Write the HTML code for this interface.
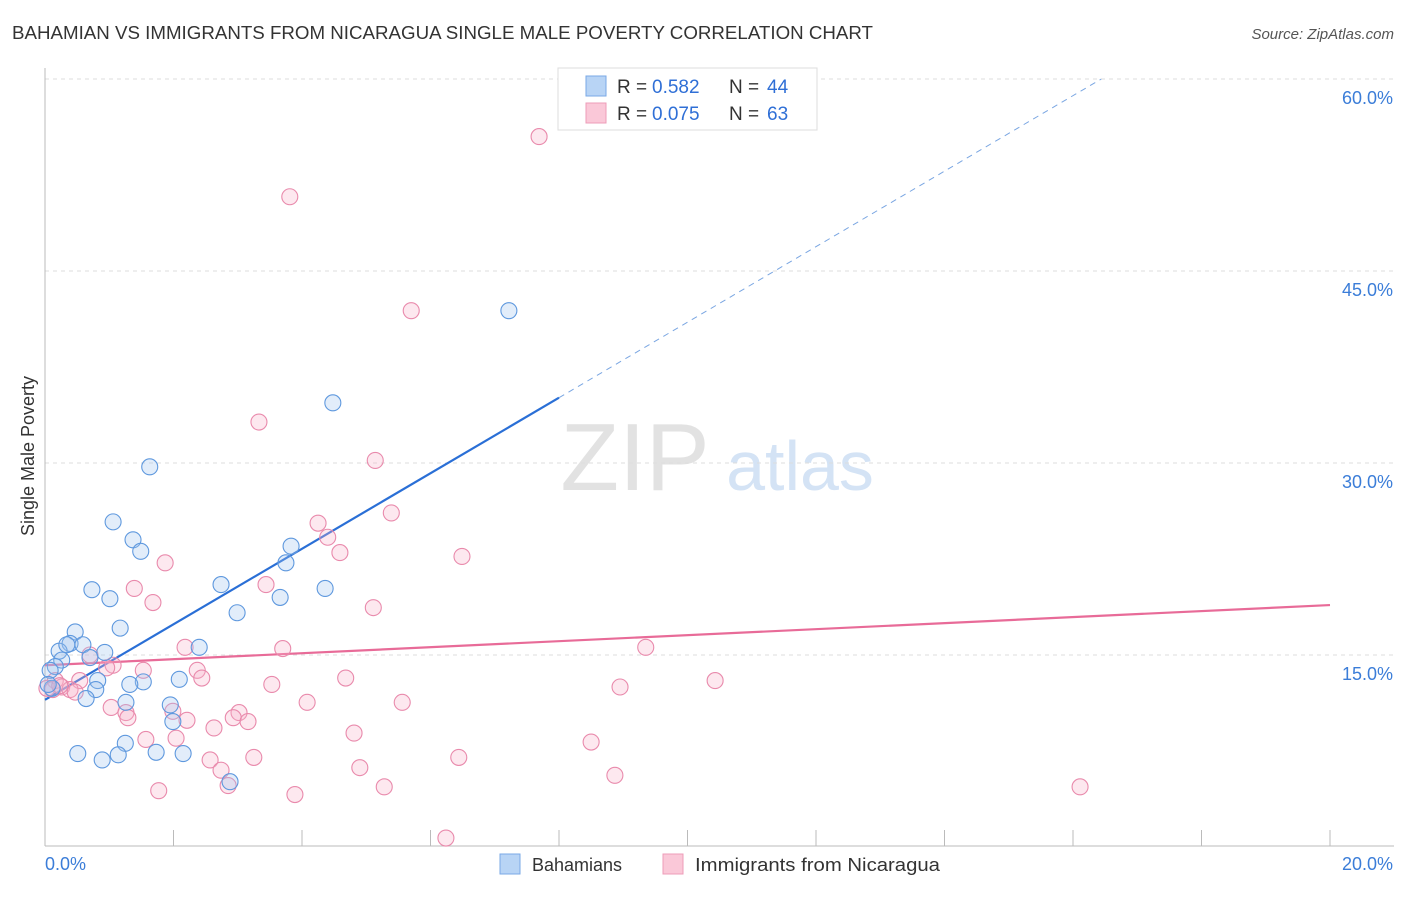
<!DOCTYPE html>
<html><head><meta charset="utf-8">
<style>
body{margin:0;background:#fff;font-family:"Liberation Sans",sans-serif;}
svg text{font-family:"Liberation Sans",sans-serif;}
</style></head>
<body>
<svg id="chart" width="1406" height="892" xmlns="http://www.w3.org/2000/svg">
<text x="12" y="39" font-size="18" fill="#333" textLength="861" lengthAdjust="spacingAndGlyphs">BAHAMIAN VS IMMIGRANTS FROM NICARAGUA SINGLE MALE POVERTY CORRELATION CHART</text>
<text x="1394" y="39" font-size="15" fill="#555" font-style="italic" text-anchor="end">Source: ZipAtlas.com</text>
<text transform="translate(34,456) rotate(-90)" font-size="18" fill="#333" text-anchor="middle">Single Male Poverty</text>
<g>
<text x="635" y="490" font-size="96" fill="#e2e2e2" font-family="Liberation Serif" text-anchor="middle">ZIP</text>
<text x="800" y="490" font-size="70" fill="#d4e3f5" text-anchor="middle">atlas</text>
</g>
<g id="grid"></g>
<g id="axes"></g>
<g id="lines"></g>
<g id="points"></g>
<g>
<rect x="558" y="68" width="259" height="62" fill="#fff" stroke="#ddd"/>
<rect x="586" y="76" width="20" height="20" fill="#b8d4f5" stroke="#7aa8e6"/>
<rect x="586" y="103" width="20" height="20" fill="#fac8d8" stroke="#ee9cb8"/>
<text x="617" y="93" font-size="19" fill="#333">R = </text><text x="652" y="93" font-size="19" fill="#2f6fd6">0.582</text>
<text x="729" y="93" font-size="19" fill="#333">N = </text><text x="767" y="93" font-size="19" fill="#2f6fd6">44</text>
<text x="617" y="120" font-size="19" fill="#333">R = </text><text x="652" y="120" font-size="19" fill="#2f6fd6">0.075</text>
<text x="729" y="120" font-size="19" fill="#333">N = </text><text x="767" y="120" font-size="19" fill="#2f6fd6">63</text>
</g>
<g>
<rect x="500" y="854" width="20" height="20" fill="#b8d4f5" stroke="#7aa8e6"/>
<text x="532" y="871" font-size="18" fill="#333">Bahamians</text>
<rect x="663" y="854" width="20" height="20" fill="#fac8d8" stroke="#ee9cb8"/>
<text x="695" y="871" font-size="18" fill="#333" textLength="245" lengthAdjust="spacingAndGlyphs">Immigrants from Nicaragua</text>
</g>
</svg>
<script>
const xTicks=[0,2,4,6,8,10,12,14,16,18,20];
const yTicks=[15,30,45,60];
const yTickLabels=["15.0%","30.0%","45.0%","60.0%"];
const xEndLabels=["0.0%","20.0%"];
const blueX=[7.22,4.48,1.63,1.06,1.37,1.49,3.83,3.75,2.74,4.36,0.73,1.01,3.66,2.99,1.17,0.47,0.39,0.59,0.22,0.34,2.40,0.93,0.70,0.26,0.16,0.08,2.09,0.82,1.53,1.32,0.11,0.05,0.79,0.64,1.26,1.95,1.99,1.25,1.73,2.15,0.51,0.89,1.14,2.88];
const blueY=[41.9,34.7,29.7,25.4,24.0,23.1,23.5,22.2,20.5,20.2,20.1,19.4,19.5,18.3,17.1,16.8,15.9,15.8,15.3,15.8,15.6,15.2,14.8,14.6,14.1,13.8,13.1,13.0,12.9,12.7,12.4,12.7,12.3,11.6,11.3,11.1,9.8,8.1,7.4,7.3,7.3,6.8,7.2,5.1];
const pinkX=[7.69,3.81,5.70,3.33,5.14,5.39,4.25,4.40,4.59,6.49,1.87,1.39,3.44,1.68,5.11,2.18,3.70,9.35,0.70,1.06,1.53,2.37,0.96,2.44,0.16,0.54,4.68,3.53,0.26,0.39,10.43,8.95,0.03,4.08,5.56,1.03,1.26,1.99,2.21,3.02,2.93,3.16,2.63,1.29,1.57,2.04,4.81,8.50,2.57,3.25,6.44,4.90,2.74,8.87,2.85,5.28,16.11,1.77,3.89,6.24,0.12,0.23,0.47];
const pinkY=[55.5,50.8,41.9,33.2,30.2,26.1,25.3,24.2,23.0,22.7,22.2,20.2,20.5,19.1,18.7,15.6,15.5,15.6,15.0,14.2,13.8,13.8,14.0,13.2,13.0,13.0,13.2,12.7,12.5,12.3,13.0,12.5,12.4,11.3,11.3,10.9,10.5,10.6,9.9,10.5,10.1,9.8,9.3,10.1,8.4,8.5,8.9,8.2,6.8,7.0,7.0,6.2,6.0,5.6,4.8,4.7,4.7,4.4,4.1,0.7,12.3,12.6,12.1];
const blueTrend=[11.5,2.95];
const pinkTrend=[14.2,0.235];
const NS="http://www.w3.org/2000/svg";
const X=v=>45+v*64.25, Y=v=>847-v*12.8;
function mk(tag,attrs,parent){const e=document.createElementNS(NS,tag);for(const k in attrs)e.setAttribute(k,attrs[k]);parent.appendChild(e);return e;}
const grid=document.getElementById('grid'),axes=document.getElementById('axes'),lines=document.getElementById('lines'),pts=document.getElementById('points');
yTicks.forEach((t,i)=>{
 const l=mk('line',{x1:45,x2:1394,y1:Y(t),y2:Y(t),stroke:'#ddd','stroke-dasharray':'4,4'},grid);
 
 
 const tx=mk('text',{x:1393,y:Y(t)+25,'font-size':18,fill:'#3b7dd8','text-anchor':'end'},axes);
 tx.textContent=yTickLabels[i];
 
 
});
const yl=mk('line',{x1:45,x2:45,y1:68,y2:846,stroke:'#bbb'},axes);


const xl=mk('line',{x1:45,x2:1394,y1:846,y2:846,stroke:'#bbb'},axes);


xTicks.forEach(t=>{
 const l=mk('line',{x1:X(t),x2:X(t),y1:830,y2:846,stroke:'#bbb'},axes);
 
 
});
const xa=mk('text',{x:45,y:870,'font-size':18,fill:'#3b7dd8'},axes);xa.textContent=xEndLabels[0];


const xb=mk('text',{x:1393,y:870,'font-size':18,fill:'#3b7dd8','text-anchor':'end'},axes);xb.textContent=xEndLabels[1];


function drawPts(xs,ys,fill,stroke,name){xs.forEach((x,i)=>{
 const c=mk('circle',{cx:X(x),cy:Y(ys[i]),r:8,fill:fill,'fill-opacity':0.3,stroke:stroke,'stroke-width':1.1},pts);
 
 
});}
drawPts(pinkX,pinkY,'#f7b3c9','#e98aac','point-nicaragua');
drawPts(blueX,blueY,'#9fc4f0','#5e98de','point-bahamians');
const bEnd=8.0, bMax=(60-blueTrend[0])/blueTrend[1];
const b1=mk('line',{x1:X(0),y1:Y(blueTrend[0]),x2:X(bEnd),y2:Y(blueTrend[0]+blueTrend[1]*bEnd),stroke:'#2a6fd6','stroke-width':2.2},lines);


const b2=mk('line',{x1:X(bEnd),y1:Y(blueTrend[0]+blueTrend[1]*bEnd),x2:X(bMax),y2:Y(60),stroke:'#7aa6e2','stroke-width':1,'stroke-dasharray':'6,5'},lines);


const p1=mk('line',{x1:X(0),y1:Y(pinkTrend[0]),x2:X(20),y2:Y(pinkTrend[0]+pinkTrend[1]*20),stroke:'#e86b98','stroke-width':2.2},lines);


</script>
</body></html>
